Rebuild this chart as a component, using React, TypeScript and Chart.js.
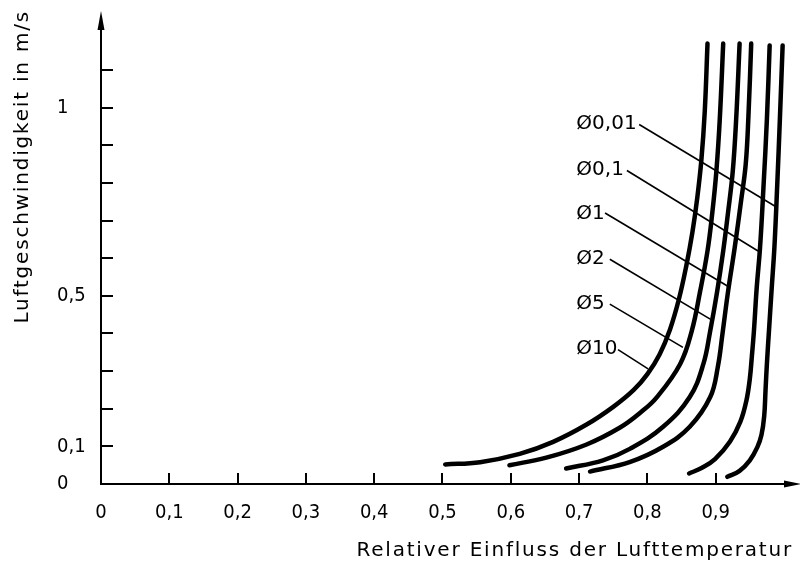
import React, { useEffect, useRef } from 'react';
import { Chart, registerables } from 'chart.js';

Chart.register(...registerables);

const FONT_FAMILY = '"DejaVu Sans", sans-serif';
const NUM_FAMILY = '"DejaVu Sans Condensed", "Liberation Sans Narrow", "DejaVu Sans", sans-serif';
const FONT_SIZE = 20;

// Axis ticks
const xTickValues = [0, 0.1, 0.2, 0.3, 0.4, 0.5, 0.6, 0.7, 0.8, 0.9];
const xTickMarks = [0.1, 0.2, 0.3, 0.4, 0.5, 0.6, 0.7, 0.8, 0.9];
const yTickValues = [0, 0.1, 0.5, 1];
const yTickMarks = [0.1, 0.2, 0.3, 0.4, 0.5, 0.6, 0.7, 0.8, 0.9, 1.0, 1.1];

const xTitle = 'Relativer Einfluss der Lufttemperatur';
const yTitle = 'Luftgeschwindigkeit in m/s';

// Curves (x = relative influence, y = air speed m/s)
const d10X = [0.504, 0.555, 0.613, 0.662, 0.711, 0.750, 0.780, 0.800, 0.818, 0.833, 0.846, 0.857, 0.866, 0.873, 0.879, 0.884, 0.888];
const d10Y = [0.052, 0.058, 0.080, 0.112, 0.158, 0.205, 0.250, 0.292, 0.345, 0.410, 0.490, 0.580, 0.670, 0.760, 0.860, 0.990, 1.170];

const d5X = [0.598, 0.652, 0.711, 0.760, 0.790, 0.814, 0.848, 0.865, 0.877, 0.888, 0.895, 0.901, 0.906, 0.911];
const d5Y = [0.050, 0.070, 0.105, 0.150, 0.190, 0.231, 0.319, 0.407, 0.510, 0.619, 0.720, 0.831, 0.970, 1.170];

const d2X = [0.681, 0.735, 0.775, 0.823, 0.862, 0.882, 0.892, 0.902, 0.911, 0.918, 0.925, 0.930, 0.935];
const d2Y = [0.041, 0.063, 0.094, 0.152, 0.231, 0.319, 0.407, 0.510, 0.619, 0.720, 0.831, 0.970, 1.170];

const d1X = [0.716, 0.775, 0.823, 0.862, 0.892, 0.903, 0.910, 0.918, 0.928, 0.937, 0.944, 0.948, 0.952];
const d1Y = [0.033, 0.059, 0.099, 0.152, 0.231, 0.310, 0.400, 0.510, 0.630, 0.750, 0.850, 0.980, 1.170];

const d01X = [0.861, 0.880, 0.899, 0.921, 0.936, 0.945, 0.950, 0.953, 0.956, 0.960, 0.965, 0.970, 0.975, 0.979];
const d01Y = [0.028, 0.043, 0.066, 0.113, 0.165, 0.222, 0.280, 0.340, 0.407, 0.520, 0.630, 0.790, 0.970, 1.165];

const d001X = [0.917, 0.935, 0.950, 0.961, 0.967, 0.971, 0.973, 0.975, 0.978, 0.982, 0.986, 0.990, 0.994, 0.998];
const d001Y = [0.019, 0.035, 0.063, 0.098, 0.130, 0.180, 0.250, 0.320, 0.407, 0.520, 0.630, 0.790, 0.970, 1.165];

// Curve labels with leader lines
const labelNames = ['Ø0,01', 'Ø0,1', 'Ø1', 'Ø2', 'Ø5', 'Ø10'];
const labelX = [0.696, 0.696, 0.696, 0.696, 0.696, 0.696];
const labelY = [0.958, 0.835, 0.718, 0.597, 0.478, 0.359];
const leaderStartX = [0.788, 0.770, 0.738, 0.745, 0.745, 0.757];
const leaderStartY = [0.955, 0.833, 0.720, 0.597, 0.478, 0.357];
const leaderEndX = [0.987, 0.962, 0.919, 0.892, 0.852, 0.801];
const leaderEndY = [0.738, 0.619, 0.524, 0.438, 0.363, 0.306];

const X_MAX = 1.0088;
const Y_MAX = 1.254;

const toPoints = (xs: number[], ys: number[]) => xs.map((v, i) => ({ x: v, y: ys[i] }));

const fmt = (v: number) => (v === 0 ? '0' : String(Math.round(v * 10) / 10).replace('.', ','));

const techPlugin = {
  id: 'techDraw',
  afterDraw(chart: any) {
    const { ctx } = chart;
    const xs = chart.scales.x;
    const ys = chart.scales.y;
    const x0 = xs.getPixelForValue(0);
    const y0 = ys.getPixelForValue(0);
    const xEnd = xs.getPixelForValue(X_MAX);
    const yTop = ys.getPixelForValue(Y_MAX);
    ctx.save();
    ctx.strokeStyle = '#000';
    ctx.fillStyle = '#000';
    ctx.lineWidth = 2;
    ctx.lineCap = 'butt';
    // axis lines
    ctx.beginPath();
    ctx.moveTo(x0, y0);
    ctx.lineTo(x0, yTop + 8);
    ctx.moveTo(x0 - 1, y0);
    ctx.lineTo(xEnd + 2, y0);
    ctx.stroke();
    // arrow heads
    ctx.beginPath();
    ctx.moveTo(x0, yTop - 1);
    ctx.lineTo(x0 - 3.5, yTop + 18);
    ctx.lineTo(x0 + 3.5, yTop + 18);
    ctx.closePath();
    ctx.fill();
    ctx.beginPath();
    ctx.moveTo(xEnd + 11, y0);
    ctx.lineTo(xEnd - 6, y0 - 3.5);
    ctx.lineTo(xEnd - 6, y0 + 3.5);
    ctx.closePath();
    ctx.fill();
    // inward tick marks
    ctx.beginPath();
    yTickMarks.forEach((v) => {
      const py = Math.round(ys.getPixelForValue(v));
      ctx.moveTo(x0, py);
      ctx.lineTo(x0 + 12, py);
    });
    xTickMarks.forEach((v) => {
      const px = Math.round(xs.getPixelForValue(v));
      ctx.moveTo(px, y0);
      ctx.lineTo(px, y0 - 11);
    });
    ctx.stroke();
    // titles
    ctx.font = `${FONT_SIZE}px ${FONT_FAMILY}`;
    (ctx as any).letterSpacing = '1.8px';
    ctx.textBaseline = 'alphabetic';
    ctx.textAlign = 'right';
    ctx.fillText(xTitle, 793, 556);
    ctx.save();
    ctx.translate(28, 10);
    ctx.rotate(-Math.PI / 2);
    ctx.textAlign = 'right';
    ctx.fillText(yTitle, 0, 0);
    ctx.restore();
    (ctx as any).letterSpacing = '0px';
    // curve labels
    ctx.font = `${FONT_SIZE}px ${FONT_FAMILY}`;
    ctx.textBaseline = 'middle';
    ctx.textAlign = 'left';
    labelNames.forEach((name, i) => {
      ctx.fillText(name, xs.getPixelForValue(labelX[i]), ys.getPixelForValue(labelY[i]));
    });
    ctx.restore();
  },
};

export default function App() {
  const ref = useRef<HTMLCanvasElement | null>(null);
  useEffect(() => {
    if (!ref.current) return;
    const curveStyle = {
      showLine: true,
      borderColor: '#000',
      backgroundColor: '#000',
      borderWidth: 4.5,
      pointRadius: 0,
      borderCapStyle: 'round' as const,
      borderJoinStyle: 'round' as const,
      tension: 0.4,
      fill: false,
    };
    const curves = [
      toPoints(d10X, d10Y),
      toPoints(d5X, d5Y),
      toPoints(d2X, d2Y),
      toPoints(d1X, d1Y),
      toPoints(d01X, d01Y),
      toPoints(d001X, d001Y),
    ];
    const names = ['Ø10', 'Ø5', 'Ø2', 'Ø1', 'Ø0,1', 'Ø0,01'];
    const datasets: any[] = curves.map((c, i) => ({ ...curveStyle, label: names[i], data: c }));
    labelNames.forEach((n, i) => {
      datasets.push({
        label: 'leader ' + n,
        showLine: true,
        borderColor: '#000',
        borderWidth: 1.6,
        pointRadius: 0,
        tension: 0,
        data: [
          { x: leaderStartX[i], y: leaderStartY[i] },
          { x: leaderEndX[i], y: leaderEndY[i] },
        ],
      });
    });
    const chart = new Chart(ref.current, {
      type: 'scatter',
      data: { datasets },
      options: {
        animation: false,
        responsive: false,
        layout: { padding: { left: 57, right: 10, top: 10, bottom: 0 } },
        plugins: { legend: { display: false }, tooltip: { enabled: false } },
        scales: {
          x: {
            type: 'linear',
            min: 0,
            max: X_MAX,
            grid: { display: false },
            border: { display: false },
            afterBuildTicks: (s: any) => {
              s.ticks = xTickValues.map((v) => ({ value: v }));
            },
            afterFit: (s: any) => {
              s.height = 83;
            },
            ticks: {
              autoSkip: false,
              maxRotation: 0,
              padding: 9,
              color: '#000',
              font: { family: NUM_FAMILY, size: FONT_SIZE },
              callback: (v: any) => fmt(Number(v)),
            },
          },
          y: {
            type: 'linear',
            min: 0,
            max: Y_MAX,
            grid: { display: false },
            border: { display: false },
            afterBuildTicks: (s: any) => {
              s.ticks = yTickValues.map((v) => ({ value: v }));
            },
            afterFit: (s: any) => {
              s.width = 44;
            },
            ticks: {
              crossAlign: 'far',
              padding: 0,
              color: '#000',
              font: { family: NUM_FAMILY, size: FONT_SIZE },
              callback: (v: any) => fmt(Number(v)),
            },
          },
        },
      },
      plugins: [techPlugin],
    });
    return () => chart.destroy();
  }, []);
  return (
    <div style={{ position: 'absolute', left: 0, top: 0, width: 800, height: 567, background: '#fff' }}>
      <canvas ref={ref} width={800} height={567} />
    </div>
  );
}
